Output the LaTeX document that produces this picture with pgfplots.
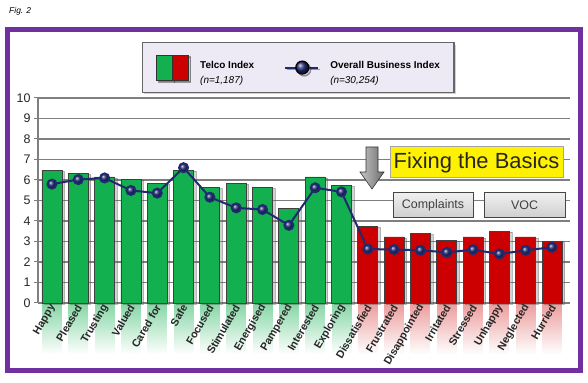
\documentclass[border=0pt]{standalone}
\usepackage{pgfplots}
\pgfplotsset{compat=1.18}
\usepackage{fontspec}
\setmainfont{Liberation Sans}
\usetikzlibrary{shadows,fadings}

\definecolor{framec}{HTML}{7030A0}
\definecolor{barG}{HTML}{12B04E}
\definecolor{barR}{HTML}{CC0000}
\definecolor{navy}{HTML}{1F2A70}
\definecolor{gridc}{HTML}{7F7F7F}
\definecolor{legfill}{HTML}{EEEAF5}

\begin{document}
\begin{tikzpicture}
\useasboundingbox (0,0) rectangle (588bp,383bp);
\fill[white] (0,0) rectangle (588bp,383bp);
\begin{scope}[shift={(0,383bp)}, x=1bp, y=-1bp]
\draw[framec, line width=5bp] (7.5,30) rectangle (580,371);
\node[anchor=west, font=\fontsize{8.5}{10}\selectfont\itshape, inner sep=0] at (9,11) {Fig. 2};
% label background gradients
\foreach \i in {0,...,11}{
  \pgfmathsetmacro{\cx}{51.95+26.324*\i}
  \fill[barG!50!white, path fading=south] (\cx-10,304) rectangle (\cx+10,354);
}
\foreach \i in {12,...,19}{
  \pgfmathsetmacro{\cx}{51.95+26.324*\i}
  \fill[barR!38!white, path fading=south] (\cx-10,304) rectangle (\cx+10,354);
}
\end{scope}

\begin{axis}[
  at={(38bp,80bp)}, anchor=south west,
  scale only axis, width=532bp, height=205bp,
  xmin=-0.53, xmax=19.68, ymin=0, ymax=10,
  clip=false,
  axis x line*=bottom, axis y line*=left,
  axis line style={gridc, line width=1.2bp},
  ytick={0,...,10},
  ymajorgrids, grid style={gridc, line width=1.2bp},
  tick align=outside, major tick length=4bp,
  y tick style={gridc, line width=1bp},
  xtick={0,...,19}, x tick style={draw=none},
  xticklabels={Happy,Pleased,Trusting,Valued,Cared for,Safe,Focused,Stimulated,Energised,Pampered,Interested,Exploring,Dissatisfied,Frustrated,Disappointed,Irritated,Stressed,Unhappy,Neglected,Hurried},
  x tick label style={rotate=60, anchor=east, font=\fontsize{10.8}{11}\selectfont\bfseries, text=black!85, inner sep=1bp, xshift=3bp},
  y tick label style={font=\fontsize{12.5}{13}\selectfont, text=black!85},
  /pgf/number format/assume math mode=true,
  legend style={at={(0.489,1.024)}, anchor=south, legend columns=2,
    fill=legfill, draw=gray!80!black, line width=1.2bp,
    drop shadow={shadow xshift=2bp, shadow yshift=-2bp, opacity=0.35},
    font=\fontsize{10}{15}\selectfont, inner xsep=14bp, inner ysep=12bp,
    nodes={inner sep=0pt},
    column sep=0pt,
    /tikz/every odd column/.append style={column sep=11bp},
    /tikz/every even column/.append style={column sep=30bp}},
  legend cell align=left,
]
\addlegendimage{legend image code/.code={
  \draw[black!80, line width=0.8bp, fill=barG] (0,-12.5bp) rectangle (16bp,12.5bp);
  \draw[black!80, line width=0.8bp, fill=barR] (16bp,-12.5bp) rectangle (32bp,12.5bp);}}
\addlegendentry{\begin{tabular}{@{}l@{}}\textbf{Telco Index}\\\textit{(n=1,187)}\end{tabular}}
\addlegendimage{legend image code/.code={
  \draw[navy, line width=2bp] (0,0) -- (33bp,0);
  \shade[ball color=navy] (17bp,0) circle (6.5bp);}}
\addlegendentry{\begin{tabular}{@{}l@{}}\textbf{Overall Business Index}\\\textit{(n=30,254)}\end{tabular}}

\addplot[ybar, bar width=20bp, bar shift=0pt, fill=barG, draw=black!75, line width=0.8bp,
  drop shadow={shadow xshift=2.5bp, shadow yshift=-1bp, opacity=0.35}, forget plot]
  coordinates {(0,6.45) (1,6.3) (2,6.15) (3,6.02) (4,5.85) (5,6.48) (6,5.62) (7,5.85) (8,5.62) (9,4.62) (10,6.15) (11,5.72)};
\addplot[ybar, bar width=20bp, bar shift=0pt, fill=barR, draw=black!75, line width=0.8bp,
  drop shadow={shadow xshift=2.5bp, shadow yshift=-1bp, opacity=0.35}, forget plot]
  coordinates {(12,3.73) (13,3.22) (14,3.38) (15,3.07) (16,3.22) (17,3.51) (18,3.22) (19,2.99)};
\addplot[navy, line width=2bp, mark=ball, mark size=4.5bp, mark options={ball color=navy}, forget plot]
  coordinates {(0,5.8) (1,6.02) (2,6.1) (3,5.49) (4,5.36) (5,6.6) (6,5.16) (7,4.64) (8,4.56) (9,3.79) (10,5.62) (11,5.42)
  (12,2.63) (13,2.61) (14,2.57) (15,2.47) (16,2.6) (17,2.39) (18,2.57) (19,2.72)};
\end{axis}

\begin{scope}[shift={(0,383bp)}, x=1bp, y=-1bp]
\shade[left color=gray!45, right color=gray!85!black, draw=gray!40!black, line width=0.6bp]
  (366,147) -- (378,147) -- (378,172) -- (384,172) -- (372,189) -- (360,172) -- (366,172) -- cycle;
\draw[fill=yellow, draw=gray!70, line width=1bp] (390,147) rectangle (563,178);
\node[font=\fontsize{22}{24}\selectfont, text=black!85, inner sep=0] at (476.5,163) {Fixing the Basics};
\shade[top color=gray!12, bottom color=gray!38, draw=gray!55!black, line width=1bp] (393,193) rectangle (473,218);
\node[font=\fontsize{12.5}{14}\selectfont, text=black!75, inner sep=0] at (433,205.5) {Complaints};
\shade[top color=gray!12, bottom color=gray!38, draw=gray!55!black, line width=1bp] (484,193) rectangle (565,218);
\node[font=\fontsize{12.5}{14}\selectfont, text=black!75, inner sep=0] at (524.5,205.5) {VOC};
\end{scope}
\end{tikzpicture}
\end{document}
